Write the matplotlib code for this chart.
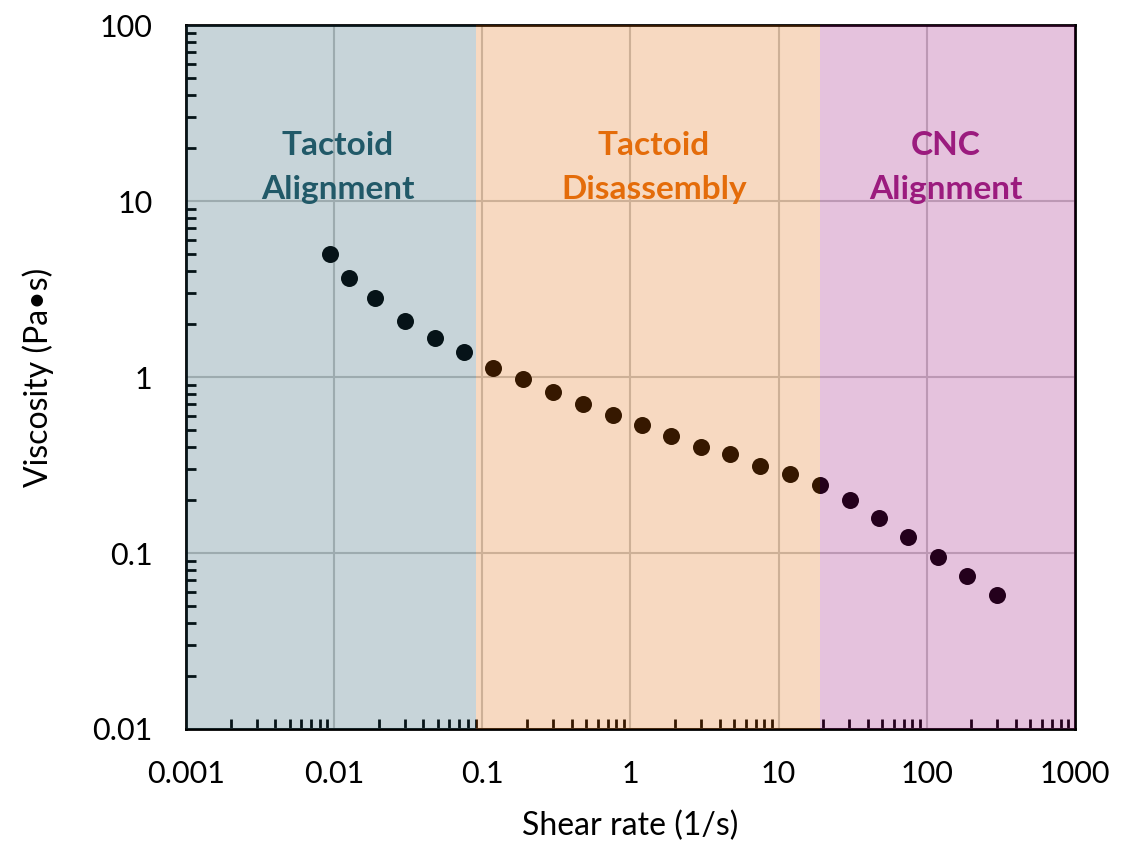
import numpy as np
import matplotlib
matplotlib.use('Agg')
import matplotlib.pyplot as plt
from matplotlib.ticker import LogLocator, FixedLocator, NullFormatter

# 数据
shear_rate = [0.0094, 0.0126, 0.0188, 0.030, 0.048, 0.075, 0.118, 0.189, 0.299, 0.475,
              0.757, 1.19, 1.89, 3.01, 4.72, 7.53, 11.9, 19.0, 30.1, 47.4,
              75.2, 119, 188, 300]
viscosity = [5.0, 3.65, 2.81, 2.08, 1.67, 1.39, 1.12, 0.97, 0.826, 0.703,
             0.605, 0.533, 0.462, 0.398, 0.366, 0.313, 0.281, 0.245, 0.201, 0.158,
             0.123, 0.095, 0.0743, 0.058]

# 区域
region_edges = [0.001, 0.09, 19.0, 1000]
region_colors = ['#195263', '#E06600', '#970476']
region_labels = ['Tactoid\nAlignment', 'Tactoid\nDisassembly', 'CNC\nAlignment']
label_x = [0.0106, 1.44, 134]
label_colors = ['#215968', '#E46C0A', '#9B1B7E']

plt.rcParams['font.family'] = ['Lato', 'DejaVu Sans']

fig = plt.figure(figsize=(11.3, 8.46), dpi=100)
ax = fig.add_axes([0.1646, 0.1383, 0.7867, 0.8321])

ax.set_xscale('log')
ax.set_yscale('log')
ax.set_xlim(0.001, 1000)
ax.set_ylim(0.01, 100)

ax.grid(True, which='major', color='#C8C8C8', linewidth=1.5, zorder=0)
ax.set_axisbelow(True)

# 绘制散点图
ax.scatter(shear_rate, viscosity, s=150, color='black', zorder=2, linewidths=0)

# 半透明区域覆盖
for i in range(3):
    ax.axvspan(region_edges[i], region_edges[i + 1], color=region_colors[i],
               alpha=0.245, linewidth=0, zorder=3)
    ax.text(label_x[i], 15.5, region_labels[i], color=label_colors[i],
            fontsize=24, fontweight='bold', ha='center', va='center',
            linespacing=1.65, zorder=4)

# 坐标轴刻度
ax.xaxis.set_major_locator(FixedLocator([0.001, 0.01, 0.1, 1, 10, 100, 1000]))
ax.set_xticklabels(['0.001', '0.01', '0.1', '1', '10', '100', '1000'])
ax.yaxis.set_major_locator(FixedLocator([0.01, 0.1, 1, 10, 100]))
ax.set_yticklabels(['0.01', '0.1', '1', '10', '100'])
ax.xaxis.set_minor_locator(LogLocator(base=10, subs=np.arange(2, 10), numticks=20))
ax.yaxis.set_minor_locator(LogLocator(base=10, subs=np.arange(2, 10), numticks=20))
ax.xaxis.set_minor_formatter(NullFormatter())
ax.yaxis.set_minor_formatter(NullFormatter())

ax.tick_params(which='both', direction='in', width=2, colors='black',
               labelsize=22, top=False, right=False)
ax.tick_params(which='major', length=0)
ax.tick_params(axis='x', which='major', pad=22)
ax.tick_params(axis='y', which='major', pad=24)
ax.tick_params(which='minor', length=7)

for s in ax.spines.values():
    s.set_linewidth(2)
    s.set_color('black')

ax.set_xlabel('Shear rate (1/s)', fontsize=23, labelpad=17)
ax.set_ylabel('Viscosity (Pa•s)', fontsize=23, labelpad=28)

fig.savefig('out.png', dpi=100)
